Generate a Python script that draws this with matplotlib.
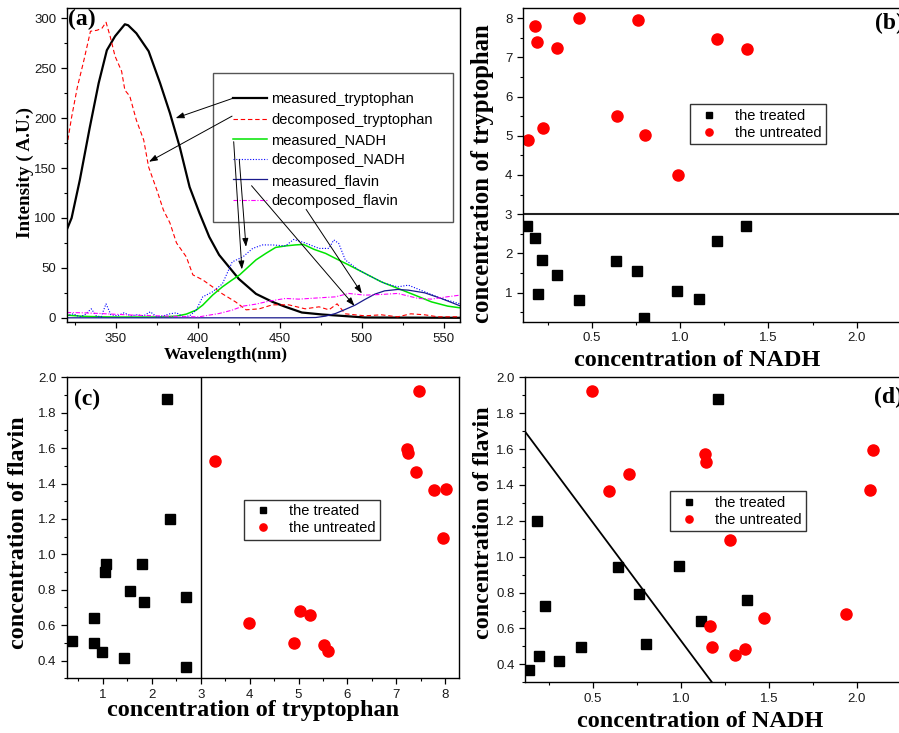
import matplotlib
matplotlib.use("Agg")
import matplotlib.pyplot as plt
from matplotlib.ticker import MultipleLocator
from matplotlib.patches import Rectangle

# ---------------- data: panel (a) spectra ----------------
wl_meas_tryp = [320, 323, 328, 334, 339.5, 344.5, 349.5, 355.5, 357.5, 362.5, 370, 377, 383, 389, 395,
                401, 407, 413, 419, 425, 435.5, 445.5, 453.5, 463.5, 476, 490, 502, 560]
int_meas_tryp = [88, 100, 138, 190, 235, 268, 282, 294, 293, 285, 267, 235, 205, 171, 131,
                 105, 81, 63, 51, 39, 24, 16, 11, 5.3, 3.3, 1.7, 0.3, 0]

wl_dec_tryp = [320, 323, 326.5, 330.5, 334.5, 338.5, 341.5, 344, 346.5, 349.5, 353.5, 355.5, 358.5, 362.5,
               367, 370, 375, 379, 383, 387, 393, 397, 403, 409, 415, 423, 429.5, 437.5, 445.5, 455.5,
               465.5, 474, 480, 485, 490, 502, 512, 522, 530, 538.5, 546.5, 560]
int_dec_tryp = [171, 201, 231, 258, 287, 288, 290, 296, 282, 262, 247, 228, 222, 198,
                178, 151, 128, 108, 95, 75, 61, 43, 38, 31, 24, 16, 8, 9, 13, 13,
                9, 11, 8, 14, 4, 2, 3, 1, 4, 3, 1, 1]

wl_meas_nadh = [320, 330, 340, 350, 360, 370, 380, 387, 393, 399, 403, 409, 415, 421, 425.5, 429.5, 435.5,
                441.5, 447.5, 453.5, 459.5, 464.5, 471, 478, 484, 492, 502, 512, 522, 532.5, 542.5, 552.5, 560]
int_meas_nadh = [2.7, 1.5, 1, 0.8, 0.8, 0.8, 1, 1.7, 3.7, 7.7, 12.7, 22.7, 31, 38, 43, 49, 58,
                 64.5, 70.5, 72, 73, 73.5, 68.5, 64.5, 59.5, 53, 44.5, 36, 29.5, 22.7, 16, 11.7, 10]

wl_dec_nadh = [320, 324, 328, 331, 335, 338, 341, 344, 347, 351, 355, 359, 363, 367, 371, 375, 379, 383,
               387, 391, 395, 399, 403, 409, 415, 421, 427.5, 433.5, 439.5, 445.5, 453.5, 458.5, 465.5,
               474, 480, 483, 486, 490, 498, 506, 514, 522, 528.5, 538.5, 548.5, 560]
int_dec_nadh = [2, 4, 1, 3, 9, 2, 1, 14, 3, 2, 5, 2, 3, 2, 6, 1, 2, 4,
                5, 1, 2, 7.7, 21, 26, 34, 56, 61, 69.5, 73, 73, 72, 78.5, 75,
                69.5, 69.5, 78, 74.5, 58, 48, 41, 34.5, 31, 32.7, 26, 19.4, 14]

wl_meas_flav = [320, 400, 460, 472, 478, 484, 490, 496, 502, 508, 514, 522, 528.5, 538.5, 548.5, 560]
int_meas_flav = [0, 0, 0, 0.3, 1.7, 4.3, 8.4, 12.7, 18.4, 23.7, 27, 28.4, 27.7, 25, 19.4, 12]

wl_dec_flav = [320, 330, 340.5, 350, 360.5, 370, 381, 390, 401, 407, 413, 421, 427.5, 435.5, 443.5, 453.5,
               461.5, 474, 484, 492, 502, 512, 522, 534.5, 542.5, 552, 560]
int_dec_flav = [5.3, 5, 4.3, 3.5, 2.7, 2.2, 1.7, 1.2, 1, 2.7, 4.3, 7.7, 11.7, 13.7, 16.7, 19.4,
                18.7, 20, 21, 24.4, 22.7, 23.4, 24.4, 19.4, 18.7, 21, 22.7]

series_labels = ["measured_tryptophan", "decomposed_tryptophan", "measured_NADH",
                 "decomposed_NADH", "measured_flavin", "decomposed_flavin"]

# ---------------- data: panel (b) NADH vs tryptophan ----------------
b_treat_nadh = [0.136, 0.179, 0.219, 0.194, 0.304, 0.430, 0.640, 0.757, 0.796, 0.983, 1.108, 1.209, 1.374]
b_treat_tryp = [2.69, 2.38, 1.84, 0.97, 1.44, 0.82, 1.80, 1.54, 0.36, 1.04, 0.83, 2.31, 2.69]
b_untr_nadh = [0.138, 0.177, 0.191, 0.225, 0.304, 0.426, 0.643, 0.762, 0.800, 0.987, 1.209, 1.377]
b_untr_tryp = [4.89, 7.79, 7.38, 5.21, 7.23, 8.00, 5.50, 7.96, 5.03, 3.99, 7.46, 7.22]
b_threshold = 3

# ---------------- data: panel (c) tryptophan vs flavin ----------------
c_treat_tryp = [0.366, 0.823, 0.823, 0.98, 1.034, 1.061, 1.43, 1.56, 1.80, 1.85, 2.316, 2.37, 2.697, 2.704]
c_treat_flav = [0.513, 0.643, 0.500, 0.447, 0.898, 0.947, 0.417, 0.793, 0.947, 0.729, 1.880, 1.199, 0.759, 0.366]
c_untr_tryp = [3.297, 3.993, 4.90, 5.03, 5.23, 5.51, 5.61, 7.217, 7.24, 7.40, 7.469, 7.776, 8.007, 7.95]
c_untr_flav = [1.530, 0.613, 0.500, 0.680, 0.658, 0.487, 0.453, 1.596, 1.575, 1.464, 1.925, 1.365, 1.370, 1.092]
c_threshold = 3

# ---------------- data: panel (d) NADH vs flavin ----------------
d_treat_nadh = [0.140, 0.182, 0.197, 0.227, 0.311, 0.436, 0.646, 0.763, 0.805, 0.991, 1.117, 1.214, 1.379]
d_treat_flav = [0.366, 1.199, 0.446, 0.727, 0.417, 0.498, 0.944, 0.792, 0.511, 0.948, 0.643, 1.879, 0.757]
d_untr_nadh = [0.498, 0.593, 0.706, 1.138, 1.146, 1.167, 1.178, 1.282, 1.311, 1.366, 1.472, 1.941, 2.076, 2.091]
d_untr_flav = [1.926, 1.364, 1.463, 1.573, 1.528, 0.612, 0.498, 1.093, 0.452, 0.487, 0.658, 0.679, 1.370, 1.595]
d_line_x = [0.106, 1.182]
d_line_y = [1.710, 0.294]

group_labels = ["the treated", "the untreated"]

# ---------------- styling ----------------
SERIF = "Liberation Serif"
SANS = "Liberation Sans"
plt.rcParams["font.family"] = SANS
plt.rcParams["axes.linewidth"] = 1.0

W, H = 899, 733
fig = plt.figure(figsize=(W / 100, H / 100), dpi=100)


def px_axes(left, top, right, bottom):
    return fig.add_axes([left / W, 1 - bottom / H, (right - left) / W, (bottom - top) / H])


def style_ticks(ax, xmaj, xmin, ymaj, ymin):
    ax.xaxis.set_major_locator(MultipleLocator(xmaj))
    ax.xaxis.set_minor_locator(MultipleLocator(xmin))
    ax.yaxis.set_major_locator(MultipleLocator(ymaj))
    ax.yaxis.set_minor_locator(MultipleLocator(ymin))
    ax.tick_params(which="major", direction="out", length=4.5, width=0.9, labelsize=9.5,
                   labelcolor="#1a1a1a", pad=3)
    ax.tick_params(which="minor", direction="out", length=2.3, width=0.8)
    ax.tick_params(top=False, right=False, which="both")


def labels(ax, xtext, ytext, size_x, size_y, xpos, ypos):
    ax.set_xlabel(xtext, fontfamily=SERIF, fontweight="bold", fontsize=size_x)
    ax.set_ylabel(ytext, fontfamily=SERIF, fontweight="bold", fontsize=size_y)
    ax.xaxis.set_label_coords(*xpos)
    ax.yaxis.set_label_coords(*ypos)


# ---------------- panel (a) ----------------
axa = px_axes(66.7, 8.3, 460, 322.3)
la = []
la += axa.plot(wl_meas_tryp, int_meas_tryp, color="black", lw=1.6)
la += axa.plot(wl_dec_tryp, int_dec_tryp, color="red", lw=0.8, ls=(0, (4, 2.5)))
la += axa.plot(wl_meas_nadh, int_meas_nadh, color="#00e400", lw=1.1)
la += axa.plot(wl_dec_nadh, int_dec_nadh, color="blue", lw=0.8, ls=(0, (1, 1.5)))
la += axa.plot(wl_meas_flav, int_meas_flav, color="#1a1a8c", lw=0.9)
la += axa.plot(wl_dec_flav, int_dec_flav, color="magenta", lw=0.8, ls=(0, (4, 1.5, 1, 1.5)))
axa.set_xlim(320, 560)
axa.set_ylim(-4.5, 310)
style_ticks(axa, 50, 25, 50, 25)
labels(axa, "Wavelength(nm)", "Intensity ( A.U.)", 12.5, 13.8, (0.405, -0.080), (-0.082, 0.476))

# legend frame drawn as its own rectangle so its size matches the original
axa.add_patch(Rectangle((0.371, 0.3204), 0.612, 0.4736, transform=axa.transAxes, fill=True,
                        facecolor="white", edgecolor="#555555", lw=1.0, zorder=4))
lega = axa.legend(la, series_labels, loc="upper left", bbox_to_anchor=(0.4228, 0.732),
                  fontsize=10.5, frameon=False, handlelength=2.3, handletextpad=0.34,
                  labelspacing=0.43, borderpad=0, borderaxespad=0)
lega.set_zorder(5)
axa.text(0.004, 0.998, "(a)", transform=axa.transAxes, ha="left", va="top",
         fontfamily=SERIF, fontweight="bold", fontsize=17)

arrow_kw = dict(arrowstyle="-|>,head_length=0.5,head_width=0.18", color="black", lw=0.7,
                shrinkA=0, shrinkB=0)
arrows = [((421.3, 219.8), (386.5, 200.0)),
          ((420.9, 202.0), (370.2, 156.3)),
          ((421.9, 176.4), (426.9, 48.5)),
          ((425.3, 158.7), (429.4, 71.1)),
          ((432.8, 132.3), (495.6, 12.0)),
          ((466.1, 108.6), (500.1, 24.4))]
for start, end in arrows:
    ann = axa.annotate("", xy=end, xytext=start, arrowprops=arrow_kw, annotation_clip=False)
    ann.set_zorder(6)


def scatter_panel(ax, xt, yt, xu, yu):
    h1, = ax.plot(xt, yt, ls="none", marker="s", ms=7.2, color="black", mec="black")
    h2, = ax.plot(xu, yu, ls="none", marker="o", ms=8.0, color="red", mec="red")
    return h1, h2


def group_legend(ax, handles, anchor):
    leg = ax.legend(handles, group_labels, loc="upper left", bbox_to_anchor=anchor, fontsize=10.5,
                    frameon=True, fancybox=False, edgecolor="black", markerscale=0.65,
                    handlelength=2.0, handletextpad=0.8, labelspacing=0.22, borderpad=0.3,
                    borderaxespad=0)
    leg.get_frame().set_linewidth(1.0)
    return leg


# ---------------- panel (b) ----------------
axb = px_axes(522.7, 8.3, 912, 322)
hb = scatter_panel(axb, b_treat_nadh, b_treat_tryp, b_untr_nadh, b_untr_tryp)
axb.axhline(b_threshold, color="#222222", lw=1.5)
axb.set_xlim(0.1095, 2.313)
axb.set_ylim(0.25, 8.25)
style_ticks(axb, 0.5, 0.25, 1, 0.5)
labels(axb, "concentration of NADH", "concentration of tryptophan", 17.5, 17.8,
       (0.448, -0.088), (-0.074, 0.472))
group_legend(axb, hb, (0.429, 0.694))
axb.text(0.905, 0.985, "(b)", transform=axb.transAxes, ha="left", va="top",
         fontfamily=SERIF, fontweight="bold", fontsize=17)

# ---------------- panel (c) ----------------
axc = px_axes(66.7, 377.3, 459, 678.3)
hc = scatter_panel(axc, c_treat_tryp, c_treat_flav, c_untr_tryp, c_untr_flav)
axc.axvline(c_threshold, color="black", lw=1.0)
axc.set_xlim(0.26, 8.28)
axc.set_ylim(0.3, 2.0)
style_ticks(axc, 1, 0.5, 0.2, 0.1)
labels(axc, "concentration of tryptophan", "concentration of flavin", 17.5, 17.3,
       (0.475, -0.072), (-0.096, 0.484))
group_legend(axc, hc, (0.451, 0.593))
axc.text(0.019, 0.963, "(c)", transform=axc.transAxes, ha="left", va="top",
         fontfamily=SERIF, fontweight="bold", fontsize=17)

# ---------------- panel (d) ----------------
axd = px_axes(525.3, 377.3, 912, 682.3)
hd = scatter_panel(axd, d_treat_nadh, d_treat_flav, d_untr_nadh, d_untr_flav)
axd.plot(d_line_x, d_line_y, color="black", lw=1.3)
axd.set_xlim(0.117, 2.314)
axd.set_ylim(0.3, 2.0)
style_ticks(axd, 0.5, 0.25, 0.2, 0.1)
labels(axd, "concentration of NADH", "concentration of flavin", 17.5, 17.3,
       (0.453, -0.095), (-0.081, 0.524))
group_legend(axd, hd, (0.374, 0.626))
axd.text(0.9025, 0.969, "(d)", transform=axd.transAxes, ha="left", va="top",
         fontfamily=SERIF, fontweight="bold", fontsize=17)

fig.savefig("out.png", dpi=100)
